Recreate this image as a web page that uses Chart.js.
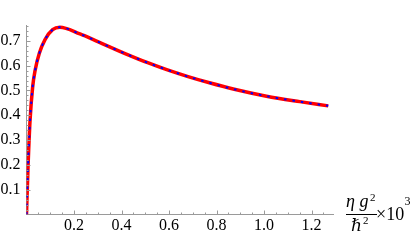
<!DOCTYPE html>
<html>
<head>
<meta charset="utf-8">
<script src="https://cdn.jsdelivr.net/npm/chart.js@4.4.1/dist/chart.umd.min.js"></script>
<style>
  html, body { margin: 0; padding: 0; background: #fff; }
  #wrap { width: 416px; height: 241px; }
</style>
</head>
<body>
<div id="wrap"><canvas id="grafico" width="416" height="241"></canvas></div>
<script>
// datos
const xVals = [0, 0.006, 0.015, 0.026, 0.036, 0.054, 0.078, 0.11, 0.14, 0.225, 0.30, 0.35, 0.42, 0.51, 0.59, 0.68, 0.77, 0.87, 1.01, 1.15, 1.27];
const yVals = [0, 0.18, 0.38, 0.515, 0.58, 0.65, 0.705, 0.745, 0.755, 0.728, 0.697, 0.676, 0.647, 0.612, 0.584, 0.556, 0.531, 0.506, 0.477, 0.455, 0.438];
const yTicks = [0.1, 0.2, 0.3, 0.4, 0.5, 0.6, 0.7];
const xTicks = [0.2, 0.4, 0.6, 0.8, 1.0, 1.2];

const puntos = xVals.map((x, i) => ({ x: x, y: yVals[i] }));
const gris = '#9a9a9a';
const fuente = 'Liberation Serif';

// marcas hacia adentro, estilo Mathematica
const marcas = {
    id: 'marcas',
    afterDraw(chart) {
        const ctx = chart.ctx;
        const xs = chart.scales.x, ys = chart.scales.y;
        const left = chart.chartArea.left, bottom = chart.chartArea.bottom;
        ctx.save();
        ctx.strokeStyle = gris;
        ctx.lineWidth = 1;
        ctx.beginPath();
        for (let i = 1; i <= 38; i++) {
            const v = i * 0.02;
            const py = Math.round(ys.getPixelForValue(v)) + 0.5;
            const len = (i % 5 === 0) ? 4 : 2;
            ctx.moveTo(left, py);
            ctx.lineTo(left + len, py);
        }
        for (let i = 1; i <= 25; i++) {
            const v = i * 0.05;
            const px = Math.round(xs.getPixelForValue(v)) + 0.5;
            const len = (i % 4 === 0) ? 4 : 2;
            ctx.moveTo(px, bottom);
            ctx.lineTo(px, bottom - len);
        }
        ctx.stroke();

        // etiqueta del eje x
        ctx.fillStyle = '#000';
        ctx.textBaseline = 'alphabetic';
        ctx.textAlign = 'left';
        ctx.font = 'italic 18px "Liberation Serif"';
        ctx.fillText('\u03b7 g', 346, 207);
        ctx.font = '11px "Liberation Serif"';
        ctx.fillText('2', 370, 200.5);
        ctx.beginPath();
        ctx.strokeStyle = '#000';
        ctx.moveTo(346, 214.5);
        ctx.lineTo(377, 214.5);
        ctx.stroke();
        ctx.font = 'italic 17px "Liberation Serif", "DejaVu Serif"';
        ctx.fillText('\u210f', 351, 231);
        ctx.font = '11px "Liberation Serif"';
        ctx.fillText('2', 363, 224);
        ctx.font = '18px "Liberation Serif"';
        ctx.fillText('\u00d710', 376, 220);
        ctx.font = '12px "Liberation Serif"';
        ctx.fillText('3', 404.5, 205);
        ctx.restore();
    }
};

new Chart(document.getElementById('grafico'), {
    type: 'scatter',
    data: {
        datasets: [{
            data: puntos,
            showLine: true,
            borderColor: '#ff0000',
            borderWidth: 3.5,
            pointRadius: 0,
            cubicInterpolationMode: 'monotone',
            order: 2
        }, {
            data: puntos,
            showLine: true,
            borderColor: '#0000ff',
            borderWidth: 2,
            borderDash: [2.5, 6],
            pointRadius: 0,
            cubicInterpolationMode: 'monotone',
            order: 1
        }]
    },
    options: {
        responsive: false,
        animation: false,
        layout: { padding: { top: 25, right: 83, left: 0, bottom: 0 } },
        plugins: { legend: { display: false }, tooltip: { enabled: false } },
        scales: {
            x: {
                type: 'linear',
                min: 0,
                max: 1.29,
                grid: { display: false, drawTicks: false, tickLength: 0 },
                border: { display: true, color: gris },
                afterFit(scale) { scale.height = 26.5; },
                afterBuildTicks(scale) { scale.ticks = xTicks.map(v => ({ value: v })); },
                ticks: {
                    color: '#000',
                    font: { family: fuente, size: 16 },
                    padding: 2,
                    maxRotation: 0,
                    callback: v => v.toFixed(1)
                }
            },
            y: {
                type: 'linear',
                min: 0,
                max: 0.764,
                grid: { display: false, drawTicks: false, tickLength: 0 },
                border: { display: true, color: gris },
                afterFit(scale) { scale.width = 26.5; },
                afterBuildTicks(scale) { scale.ticks = yTicks.map(v => ({ value: v })); },
                ticks: {
                    color: '#000',
                    font: { family: fuente, size: 16 },
                    padding: 6,
                    callback: v => v.toFixed(1)
                }
            }
        }
    },
    plugins: [marcas]
});
</script>
</body>
</html>
